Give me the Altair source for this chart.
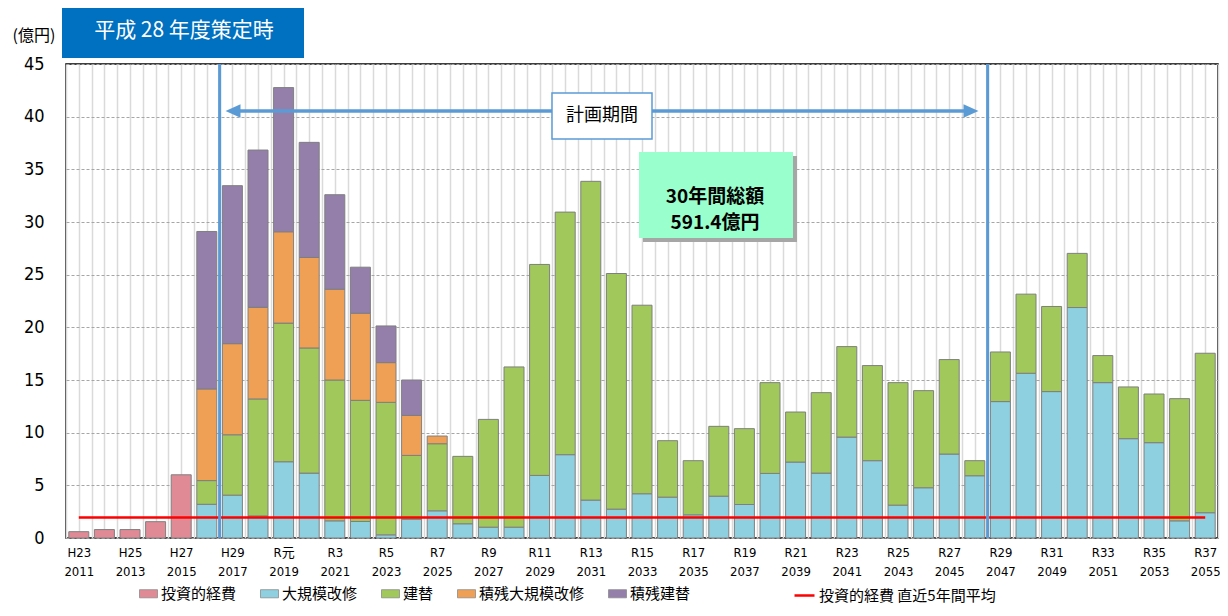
import altair as alt
import pandas as pd

# ---------------- data ----------------
years = list(range(2011, 2056))

series_names = ["投資的経費", "大規模改修", "建替", "積残大規模改修", "積残建替"]
series_colors = ["#E08A96", "#8ED0E0", "#A0C85A", "#F0A055", "#947EAA"]

investment = [0.6, 0.8, 0.8, 1.55, 6.0] + [0] * 40
renovation = [0, 0, 0, 0, 0,
              3.2, 4.07, 2.1, 7.24, 6.16, 1.63, 1.57, 0.3, 1.79, 2.58,
              1.35, 1.03, 1.03, 5.94, 7.91, 3.6, 2.74, 4.2, 3.88, 2.2,
              3.97, 3.18, 6.13, 7.21, 6.16, 9.58, 7.34, 3.12, 4.77, 7.97,
              5.91, 12.95, 15.64, 13.9, 21.88, 14.75, 9.43, 9.05, 1.63, 2.4]
rebuild = [0, 0, 0, 0, 0,
           2.25, 5.73, 11.1, 13.16, 11.88, 13.37, 11.5, 12.58, 6.05, 6.37,
           6.4, 10.23, 15.21, 20.03, 23.03, 30.26, 22.37, 17.9, 5.36, 5.14,
           6.63, 7.2, 8.62, 4.75, 7.64, 8.59, 9.03, 11.63, 9.22, 8.97,
           1.43, 4.71, 7.51, 8.08, 5.14, 2.57, 4.91, 4.62, 11.6, 15.14]
backlog_renovation = [0] * 5 + [8.7, 8.65, 8.7, 8.67, 8.59, 8.62, 8.27, 3.77, 3.8, 0.73] + [0] * 30
backlog_rebuild = [0] * 5 + [14.95, 15.0, 14.93, 13.69, 10.93, 8.97, 4.37, 3.48, 3.36] + [0] * 31

avg_label = "投資的経費  直近5年間平均"
avg_value = 1.95
avg_span = [2011, 2055]

plan_bounds = [2016.5, 2046.5]

tick_top = ["H23", "H25", "H27", "H29", "R元", "R3", "R5", "R7", "R9", "R11", "R13", "R15",
            "R17", "R19", "R21", "R23", "R25", "R27", "R29", "R31", "R33", "R35", "R37"]
tick_year = [2011, 2013, 2015, 2017, 2019, 2021, 2023, 2025, 2027, 2029, 2031, 2033,
             2035, 2037, 2039, 2041, 2043, 2045, 2047, 2049, 2051, 2053, 2055]

# ---------------- tables ----------------
all_series = [investment, renovation, rebuild, backlog_renovation, backlog_rebuild]
rows = []
for k, (name, vals) in enumerate(zip(series_names, all_series)):
    for yr, v in zip(years, vals):
        if v > 0:
            rows.append({"year": yr, "value": v, "series": name, "order": k})
df = pd.DataFrame(rows)

avg_df = pd.DataFrame({"year": [avg_span[0]], "year_end": [avg_span[1]],
                       "value": [avg_value], "label": [avg_label]})
bounds_df = pd.DataFrame({"year": plan_bounds})
one = pd.DataFrame({"k": [0]})

label_expr = "''"
for t, yv in reversed(list(zip(tick_top, tick_year))):
    label_expr = f"datum.value == {yv} ? ['{t}', '{yv}'] : ({label_expr})"

grid_vals = [2010.5 + 0.5 * i for i in range(91)]

NUM_FONT = "Liberation Sans Narrow, DejaVu Sans Condensed, Noto Sans CJK JP"
JP_FONT = "Noto Sans CJK JP"
BLUE = "#5B9BD5"

xscale = alt.Scale(domain=[2010.5, 2055.5], nice=False, zero=False, padding=0)
yscale = alt.Scale(domain=[0, 45], nice=False, padding=0)

x_axis = alt.Axis(values=grid_vals, grid=True, ticks=False, domain=False, title=None,
                  labelExpr=label_expr, labelFlush=False, labelOverlap=False,
                  labelFont=NUM_FONT, labelFontSize=13, labelColor="#000",
                  labelPadding=8, labelLineHeight=19, labelBaseline="top")
y_axis = alt.Axis(values=list(range(0, 50, 5)), grid=True, ticks=False, domain=False,
                  title=None, labelFont=NUM_FONT, labelFontSize=18, labelColor="#000",
                  labelPadding=22)

bars = alt.Chart(df).mark_bar(size=20, stroke="#7F7F7F", strokeWidth=1).encode(
    x=alt.X("year:Q", scale=xscale, axis=x_axis),
    y=alt.Y("value:Q", stack="zero", scale=yscale, axis=y_axis),
    color=alt.Color("series:N", scale=alt.Scale(domain=series_names, range=series_colors),
                    legend=alt.Legend(title=None, orient="none", legendX=73, legendY=520,
                                      direction="horizontal",
                                      symbolType="M-1,-0.45L1,-0.45L1,0.45L-1,0.45Z",
                                      symbolSize=324, symbolStrokeColor="#8C8C8C",
                                      symbolStrokeWidth=0.8, labelFont=JP_FONT,
                                      labelFontSize=15, labelColor="#000",
                                      labelOffset=3, columnPadding=21, labelLimit=0)),
    order=alt.Order("order:Q"),
)

avg_rule = alt.Chart(avg_df).mark_rule(strokeWidth=2.5).encode(
    x=alt.X("year:Q", scale=xscale, axis=x_axis),
    x2="year_end:Q",
    y=alt.Y("value:Q", scale=yscale, axis=y_axis),
    stroke=alt.Stroke("label:N", scale=alt.Scale(domain=[avg_label], range=["#FF0000"]),
                      legend=alt.Legend(title=None, orient="none", legendX=727, legendY=520,
                                        symbolType="stroke", symbolSize=400,
                                        symbolStrokeWidth=2.5, labelFont=JP_FONT,
                                        labelFontSize=15, labelColor="#000", labelOffset=3,
                                        labelLimit=0)),
)

bound_rules = alt.Chart(bounds_df).mark_rule(color=BLUE, strokeWidth=3).encode(
    x=alt.X("year:Q", scale=xscale, axis=x_axis)
)

arrow_line = alt.Chart(one).mark_rule(color=BLUE, strokeWidth=3.5).encode(
    x=alt.value(172), x2=alt.value(899), y=alt.value(47)
)
arrow_left = alt.Chart(one).mark_point(shape="M1,-0.9L-1,0L1,0.9Z", size=225, filled=True,
                                       color=BLUE, opacity=1).encode(
    x=alt.value(167), y=alt.value(47))
arrow_right = alt.Chart(one).mark_point(shape="M-1,-0.9L1,0L-1,0.9Z", size=225, filled=True,
                                        color=BLUE, opacity=1).encode(
    x=alt.value(905), y=alt.value(47))

period_box = alt.Chart(one).mark_rect(fill="white", stroke=BLUE, strokeWidth=1.5).encode(
    x=alt.value(486), x2=alt.value(586), y=alt.value(29), y2=alt.value(75))
period_text = alt.Chart(one).mark_text(text="計画期間", font=JP_FONT, fontSize=18,
                                       color="#000", align="center", baseline="middle").encode(
    x=alt.value(536), y=alt.value(52))

shadow = alt.Chart(one).mark_rect(fill="#A6A6A6").encode(
    x=alt.value(577), x2=alt.value(731), y=alt.value(92), y2=alt.value(178))
total_box = alt.Chart(one).mark_rect(fill="#99FFCC").encode(
    x=alt.value(573), x2=alt.value(727), y=alt.value(88), y2=alt.value(174))
total_text = alt.Chart(one).mark_text(text=["30年間総額", "591.4億円"], font=JP_FONT,
                                      fontSize=19, lineHeight=26, fontWeight="bold",
                                      color="#000", align="center",
                                      baseline="middle").encode(
    x=alt.value(649), y=alt.value(133))

title_box = alt.Chart(one).mark_rect(fill="#0070C0").encode(
    x=alt.value(-4), x2=alt.value(238), y=alt.value(-60), y2=alt.value(-6))
title_text = alt.Chart(one).mark_text(text="平成 28 年度策定時", font=JP_FONT, fontSize=21,
                                      color="white", align="center", baseline="middle").encode(
    x=alt.value(118), y=alt.value(-33))
unit_text = alt.Chart(one).mark_text(text="(億円)", font=JP_FONT, fontSize=16,
                                     color="#000", align="center", baseline="middle").encode(
    x=alt.value(-32), y=alt.value(-28))

chart = alt.layer(
    bars, avg_rule, bound_rules, arrow_line, arrow_left, arrow_right,
    period_box, period_text, shadow, total_box, total_text,
    title_box, title_text, unit_text,
).properties(
    width=1152, height=474,
    autosize=alt.AutoSizeParams(type="none"),
    padding={"left": 58, "top": 56, "right": 2, "bottom": 70},
).configure_view(
    stroke="#000", strokeWidth=1.5
).configure_axisX(
    gridColor="#DADADA", gridWidth=1.5
).configure_axisY(
    gridColor="#A6A6A6", gridDash=[3, 2], gridWidth=1
)

chart.save("out.html", embed_options={"renderer": "svg", "actions": False})
